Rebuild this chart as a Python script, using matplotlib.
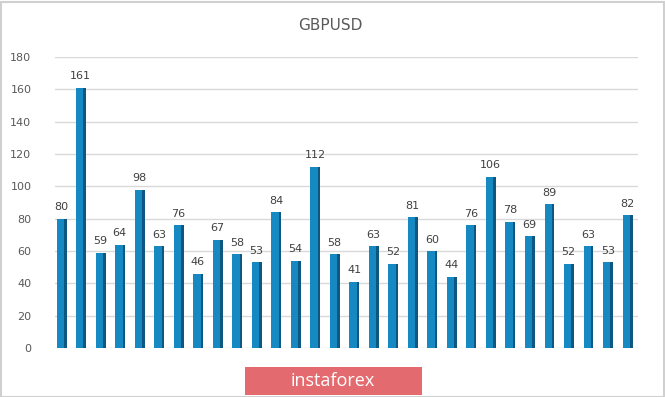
import matplotlib
import matplotlib.pyplot as plt
import numpy as np
from matplotlib.patches import Rectangle

matplotlib.use("Agg")

title = "GBPUSD"
values = [80, 161, 59, 64, 98, 63, 76, 46, 67, 58, 53, 84, 54, 112, 58,
          41, 63, 52, 81, 60, 44, 76, 106, 78, 69, 89, 52, 63, 53, 82]
y_ticks = [0, 20, 40, 60, 80, 100, 120, 140, 160, 180]
watermark = "instaforex"

W, H = 665, 397
fig = plt.figure(figsize=(W / 100, H / 100), dpi=100)
fig.patch.set_facecolor("white")

ax = fig.add_axes([55 / W, 1 - 348 / H, (638 - 55) / W, (348 - 57) / H])
x = np.arange(len(values))

# front face plus a darker side strip to fake the 3D column look
ax.bar(x + 0.25, values, width=0.14, color="#0d5780", zorder=2)
ax.bar(x, values, width=0.38, color="#1688c2", zorder=3)

for xi, v in zip(x, values):
    ax.text(xi + 0.05, v + 4, str(v), ha="center", va="bottom",
            fontsize=8, color="#404040")

ax.set_xlim(-0.27, 29.6)
ax.set_ylim(0, 180)
ax.set_yticks(y_ticks)
ax.set_xticks([])
ax.yaxis.grid(True, color="#d9d9d9", linewidth=1)
ax.set_axisbelow(True)
for s in ax.spines.values():
    s.set_visible(False)
ax.tick_params(axis="y", length=0, pad=17, labelsize=8, labelcolor="#595959")

fig.text(330 / W, 1 - 25 / H, title, ha="center", va="center",
         fontsize=11, color="#595959")

# watermark badge
fig.patches.append(Rectangle((245 / W, 1 - 395 / H), 177 / W, 28 / H,
                             transform=fig.transFigure, facecolor="#e36b6f",
                             edgecolor="none", zorder=5))
fig.text(333 / W, 1 - 381 / H, watermark, ha="center", va="center",
         fontsize=13, color="white", family="Open Sans", zorder=6)

# light frame around the picture
fig.patches.append(Rectangle((0.5 / W, 0.5 / H), 1 - 2 / W, 1 - 2 / H,
                             transform=fig.transFigure, facecolor="none",
                             edgecolor="#d0d0d0", linewidth=1.5, zorder=4))

fig.savefig("out.png", dpi=100)
plt.close(fig)
